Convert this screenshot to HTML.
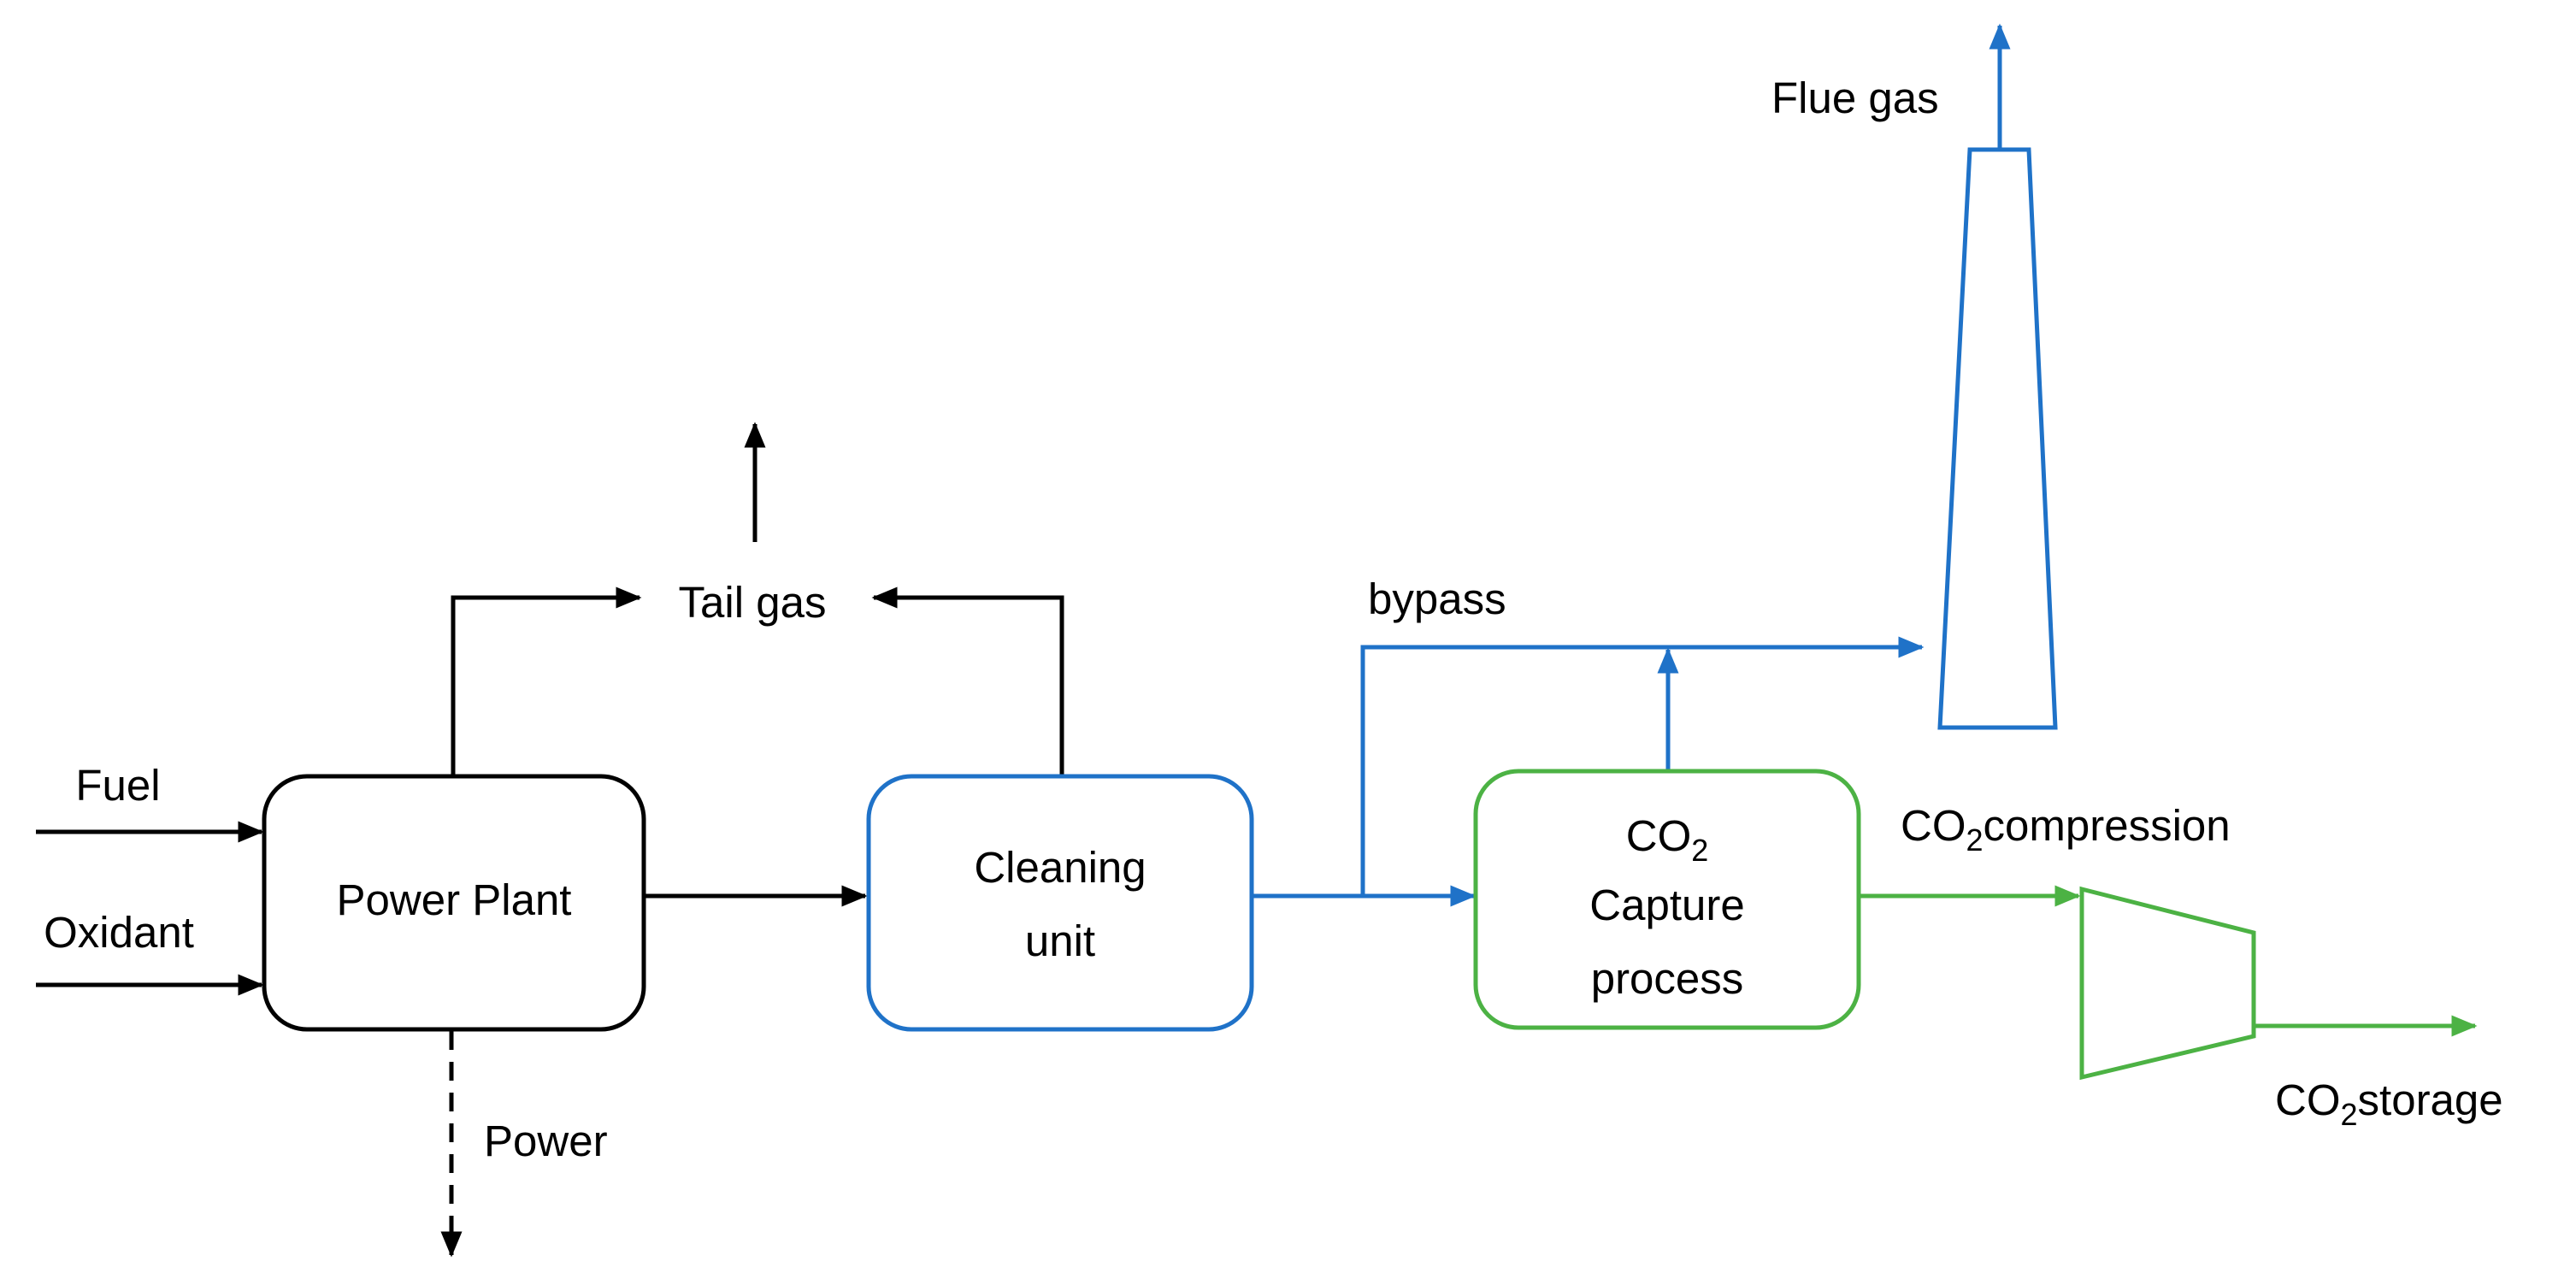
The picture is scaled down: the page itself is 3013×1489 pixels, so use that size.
<!DOCTYPE html>
<html><head><meta charset="utf-8"><style>
html,body{margin:0;padding:0;background:#fff;}
svg{display:block;}
text{font-family:"Liberation Sans",sans-serif;font-size:51px;fill:#000;}
</style></head><body>
<svg width="3013" height="1489" viewBox="0 0 3013 1489" xmlns="http://www.w3.org/2000/svg">
<defs>
<marker id="ak" markerWidth="6" markerHeight="5" refX="5.5" refY="2.5" orient="auto" viewBox="0 0 6 5"><path d="M0,0 L6,2.5 L0,5 z" fill="#000"/></marker>
<marker id="ab" markerWidth="6" markerHeight="5" refX="5.5" refY="2.5" orient="auto" viewBox="0 0 6 5"><path d="M0,0 L6,2.5 L0,5 z" fill="#1f72c8"/></marker>
<marker id="ag" markerWidth="6" markerHeight="5" refX="5.5" refY="2.5" orient="auto" viewBox="0 0 6 5"><path d="M0,0 L6,2.5 L0,5 z" fill="#4cb244"/></marker>
</defs>
<g stroke="#000" stroke-width="5" fill="none">
<rect x="309" y="908" width="444" height="296" rx="50"/>
<line x1="42" y1="973" x2="306" y2="973" marker-end="url(#ak)"/>
<line x1="42" y1="1152" x2="306" y2="1152" marker-end="url(#ak)"/>
<line x1="753" y1="1048" x2="1012" y2="1048" marker-end="url(#ak)"/>
<polyline points="530,908 530,699 748,699" marker-end="url(#ak)"/>
<polyline points="1242,908 1242,699 1022,699" marker-end="url(#ak)"/>
<line x1="883" y1="634" x2="883" y2="496" marker-end="url(#ak)"/>
<line x1="528" y1="1206" x2="528" y2="1468" stroke-dasharray="22,14" marker-end="url(#ak)"/>
</g>
<g stroke="#1f72c8" stroke-width="5" fill="none">
<rect x="1016" y="908" width="448" height="296" rx="50"/>
<line x1="1464" y1="1048" x2="1724" y2="1048" marker-end="url(#ab)"/>
<polyline points="1594,1048 1594,757 2248,757" marker-end="url(#ab)"/>
<line x1="1951" y1="902" x2="1951" y2="760" marker-end="url(#ab)"/>
<polygon points="2304,175 2373,175 2404,851 2269,851"/>
<line x1="2339" y1="175" x2="2339" y2="30" marker-end="url(#ab)"/>
</g>
<g stroke="#4cb244" stroke-width="5" fill="none">
<rect x="1726" y="902" width="448" height="300" rx="50"/>
<line x1="2174" y1="1048" x2="2431" y2="1048" marker-end="url(#ag)"/>
<polygon points="2435,1040 2636,1091 2636,1212 2435,1260"/>
<line x1="2636" y1="1200" x2="2895" y2="1200" marker-end="url(#ag)"/>
</g>
<text x="138" y="936" text-anchor="middle">Fuel</text>
<text x="139" y="1108" text-anchor="middle">Oxidant</text>
<text x="531" y="1070" text-anchor="middle">Power Plant</text>
<text x="1240" y="1032" text-anchor="middle">Cleaning</text>
<text x="1240" y="1118" text-anchor="middle">unit</text>
<text x="880" y="722" text-anchor="middle">Tail gas</text>
<text x="566" y="1352">Power</text>
<text x="1600" y="718">bypass</text>
<text x="2072" y="132">Flue gas</text>
<text x="1950" y="995" text-anchor="middle">CO<tspan font-size="36" dy="12">2</tspan></text>
<text x="1950" y="1076" text-anchor="middle">Capture</text>
<text x="1950" y="1162" text-anchor="middle">process</text>
<text x="2223" y="983">CO<tspan font-size="36" dy="12">2</tspan><tspan dy="-12">compression</tspan></text>
<text x="2661" y="1304">CO<tspan font-size="36" dy="12">2</tspan><tspan dy="-12">storage</tspan></text>
</svg>
</body></html>
